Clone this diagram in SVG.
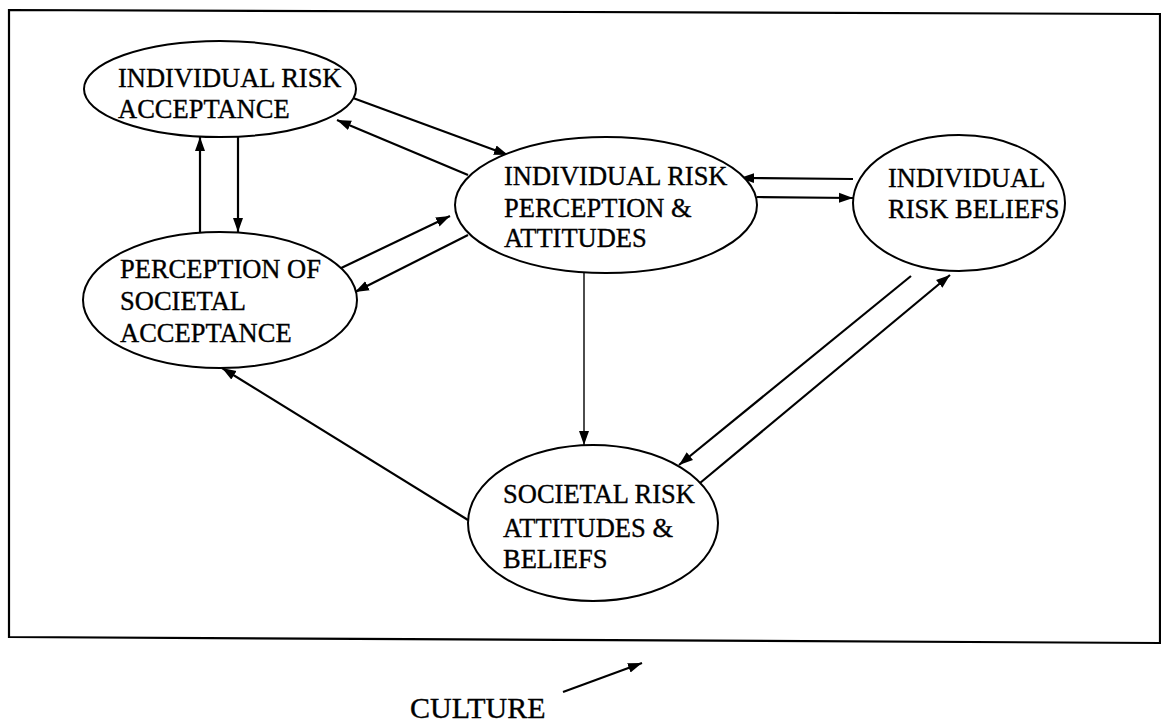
<svg xmlns="http://www.w3.org/2000/svg" width="1161" height="722" viewBox="0 0 1161 722">
  <style>
    .frame { fill: none; stroke: #000; stroke-width: 2.2; }
    .node ellipse { fill: #fff; stroke: #000; stroke-width: 2; }
    .node text, .label { font-family: "Liberation Serif", "Times New Roman", serif; font-size: 26.5px; fill: #000; stroke: #000; stroke-width: 0.35; }
    .label { font-size: 30px; }
    .edge { stroke: #000; stroke-width: 2.2; fill: none; marker-end: url(#arrow); }
    .thin { stroke-width: 1.4; }
  </style>
  <defs>
    <marker id="arrow" markerUnits="userSpaceOnUse" markerWidth="15" markerHeight="12" refX="14" refY="6" orient="auto">
      <path d="M0,1 L14,6 L0,11 z" fill="#000"/>
    </marker>
  </defs>

  <rect width="1161" height="722" fill="#fff"/>

  <!-- outer boundary -->
  <polygon class="frame" points="9,10 1160,14 1160,643 9,637"/>

  <!-- connectors -->
  <g id="connectors">
    <line class="edge" x1="353" y1="98" x2="508" y2="155"/>
    <line class="edge" x1="468" y1="175" x2="337" y2="120"/>
    <line class="edge" x1="200" y1="233" x2="200" y2="137"/>
    <line class="edge" x1="238" y1="137" x2="238" y2="232"/>
    <line class="edge" x1="337" y1="270" x2="450" y2="216"/>
    <line class="edge" x1="468" y1="235" x2="355" y2="292"/>
    <line class="edge" x1="853" y1="179" x2="740" y2="178"/>
    <line class="edge" x1="757" y1="197" x2="853" y2="198"/>
    <line class="edge thin" x1="584" y1="273" x2="584" y2="445"/>
    <line class="edge" x1="468" y1="520" x2="222" y2="368"/>
    <line class="edge" x1="911" y1="276" x2="679" y2="465"/>
    <line class="edge" x1="700" y1="483" x2="950" y2="275"/>
    <line class="edge" x1="563" y1="692" x2="642" y2="663"/>
  </g>

  <g id="individual-risk-acceptance" class="node">
    <ellipse cx="220" cy="89" rx="136" ry="48"/>
    <text x="118" y="87">INDIVIDUAL RISK</text>
    <text x="118" y="118">ACCEPTANCE</text>
  </g>

  <g id="individual-risk-perception" class="node">
    <ellipse cx="606" cy="205" rx="151" ry="68"/>
    <text x="504" y="185">INDIVIDUAL RISK</text>
    <text x="504" y="217">PERCEPTION &amp;</text>
    <text x="504" y="247">ATTITUDES</text>
  </g>

  <g id="individual-risk-beliefs" class="node">
    <ellipse cx="959" cy="203" rx="106" ry="68"/>
    <text x="888" y="187">INDIVIDUAL</text>
    <text x="888" y="218">RISK BELIEFS</text>
  </g>

  <g id="perception-societal-acceptance" class="node">
    <ellipse cx="220" cy="300" rx="137" ry="68"/>
    <text x="120" y="278">PERCEPTION OF</text>
    <text x="120" y="310">SOCIETAL</text>
    <text x="120" y="342">ACCEPTANCE</text>
  </g>

  <g id="societal-risk-attitudes" class="node">
    <ellipse cx="593" cy="523" rx="125" ry="78"/>
    <text x="503" y="503">SOCIETAL RISK</text>
    <text x="503" y="537">ATTITUDES &amp;</text>
    <text x="503" y="568">BELIEFS</text>
  </g>

  <text class="label" x="410" y="718">CULTURE</text>
</svg>
